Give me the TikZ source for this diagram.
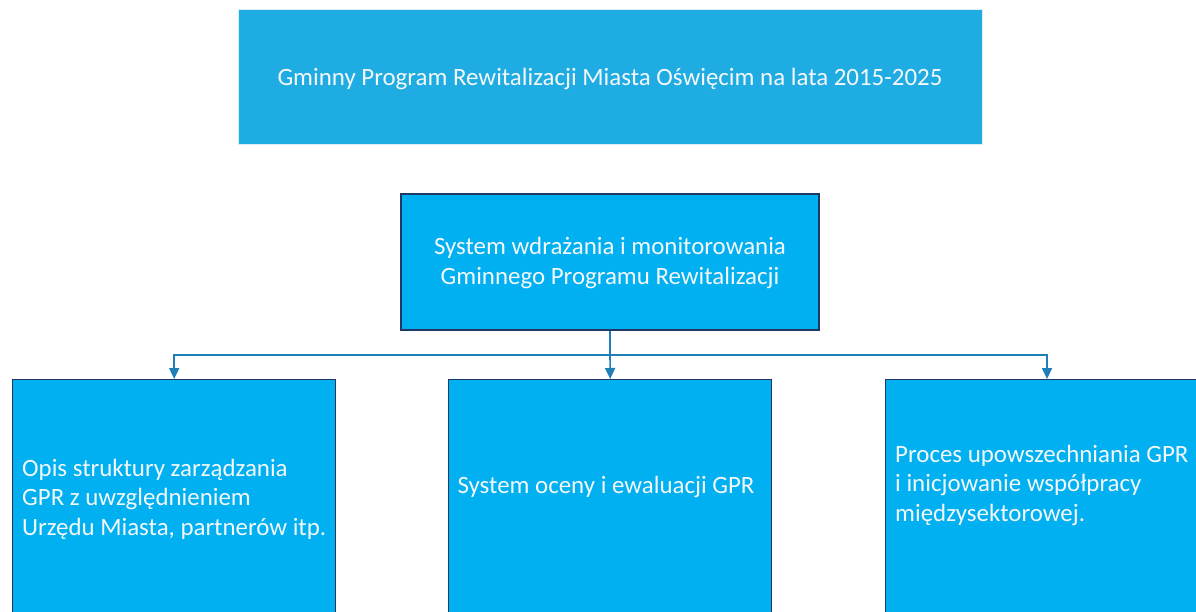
\documentclass[tikz,border=0pt]{standalone}
\usepackage{fontspec}
\setmainfont{Carlito}
\usetikzlibrary{arrows.meta}
\definecolor{topfill}{HTML}{1FACE2}
\definecolor{boxfill}{HTML}{00B0F0}
\definecolor{navy}{HTML}{1F3864}
\definecolor{conn}{HTML}{1F7FB8}
\definecolor{topline}{HTML}{D9EEF6}
\definecolor{txt}{HTML}{F4F8FB}
\tikzset{
  boxtxt/.style={text=txt, font=\fontsize{24.9}{29.5}\selectfont, inner sep=0pt},
  topbox/.style={draw=topline, line width=1pt, fill=topfill, minimum width=744pt, minimum height=135pt, inner sep=0pt},
  midbox/.style={draw=navy, line width=1.8pt, fill=boxfill, minimum width=418pt, minimum height=136pt, inner sep=0pt},
  lowbox/.style={draw=navy, line width=1.4pt, fill=boxfill, minimum width=323pt, minimum height=280pt, inner sep=0pt, anchor=north west},
  conline/.style={draw=conn, line width=1.6pt},
  arr/.style={conline, -{Triangle[width=10pt,length=11pt]}},
}
\begin{document}
\begin{tikzpicture}[x=1pt,y=-1pt]
\useasboundingbox (0,0) rectangle (1196,612);
\clip (0,0) rectangle (1196,612);
\node[topbox] (top) at (610,77.5) {};
\node[boxtxt] (toptxt) at (610,79) {Gminny Program Rewitalizacji Miasta Oświęcim na lata 2015-2025};
\node[midbox] (mid) at (610,262) {};
\node[boxtxt, align=center] (midtxt) at (610,263) {System wdrażania i monitorowania\\Gminnego Programu Rewitalizacji};
\node[lowbox] (b1) at (12,379) {};
\node[lowbox] (b2) at (448,379) {};
\node[lowbox, minimum width=330pt] (b3) at (885,379) {};
\node[boxtxt, align=left, anchor=west] (t1) at (22,499) {Opis struktury zarządzania\\GPR z uwzględnieniem\\Urzędu Miasta, partnerów itp.};
\node[boxtxt] (t2) at (606,487) {System oceny i ewaluacji GPR};
\node[boxtxt, align=left, anchor=west] (t3) at (895,485) {Proces upowszechniania GPR\\i inicjowanie współpracy\\międzysektorowej.};
\coordinate (bus) at (610,355);
\draw[conline] (mid.south) -- (bus);
\draw[arr] (bus) -| (b1.north);
\draw[arr] (bus) -- (b2.north);
\draw[arr] (bus) -| (1047,379);
\end{tikzpicture}
\end{document}
